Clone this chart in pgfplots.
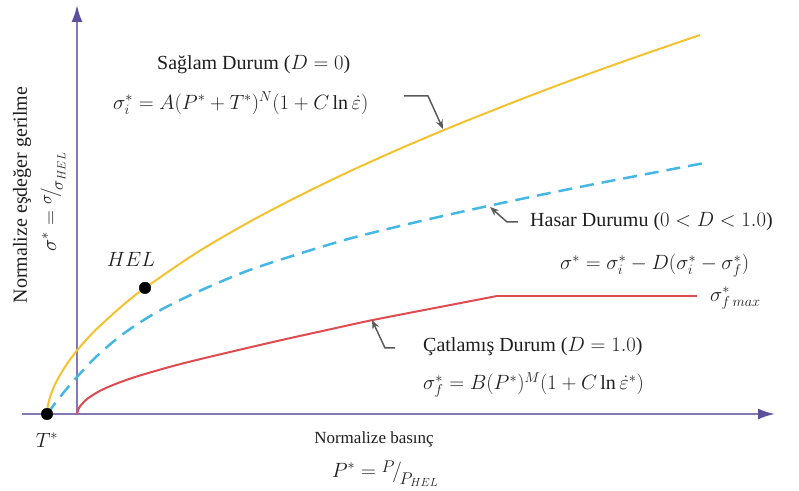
\documentclass[border=0pt]{standalone}
\usepackage{fontspec}
\setmainfont{Liberation Serif}
\usepackage{graphicx}
\usepackage{pgfplots}
\pgfplotsset{compat=1.18}
\usetikzlibrary{arrows.meta}

\definecolor{axispurple}{HTML}{8677B6}
\definecolor{tippurple}{HTML}{5E4E9C}
\definecolor{intact}{HTML}{F4C22F}
\definecolor{damaged}{HTML}{45B7E5}
\definecolor{fractured}{HTML}{DE4B50}
\definecolor{leader}{HTML}{5A5A5A}
\definecolor{ink}{HTML}{1E1E1E}

% slashed fraction with raised numerator and lowered denominator
\newcommand{\slfrac}[2]{%
  \raisebox{0.5ex}{\scalebox{0.82}{$#1$}}%
  \mkern-2mu\Big/\mkern-2mu%
  \raisebox{-0.75ex}{\scalebox{0.82}{$#2$}}}

\begin{document}
\begin{tikzpicture}[font=\fontsize{20bp}{24bp}\selectfont,
  every node/.append style={text=ink, inner sep=0pt}]
\begin{axis}[
  x=1bp, y=1bp, scale only axis,
  xmin=-77, xmax=722, ymin=-77, ymax=414,
  hide axis, clip=false]

\coordinate (bl) at (axis cs:-77,-77);
\coordinate (tr) at (axis cs:722,414);

% pressure and stress axes
\draw[axispurple, line width=2.2bp, -{Latex[length=17bp,width=11bp,color=tippurple]}]
  (axis cs:0,0) -- (axis cs:0,409);
\draw[axispurple, line width=2.2bp, -{Latex[length=17bp,width=11bp,color=tippurple]}]
  (axis cs:-55,0) -- (axis cs:698,0);

% intact strength (D = 0)
\addplot[intact, line width=2bp, smooth] coordinates {
  (-30,0) (-29.5,5.9) (-28,13.2) (-25,22.5) (-20,33.6) (-10,50.2) (0,63.5)
  (10,75.0) (20,85.4) (45,108.0) (68,126.1) (120,161.5) (170,190.8)
  (220,217.1) (270,241.4) (320,264.0) (370,285.2) (420,305.3)
  (470,324.7) (520,343.1) (570,360.8) (623,379.0)};

% damaged strength (0 < D < 1)
\addplot[damaged, line width=2.5bp, dash pattern=on 14bp off 8bp, smooth] coordinates {
  (-30,0) (-15,19.5) (-1,36) (20,58) (46,80) (80,102) (118,121) (170,143)
  (223,160.5) (273,175.5) (323,188) (368,198.5) (413,208.4) (468,220)
  (523,231) (575,241) (626,250.7)};

% fractured strength (D = 1), capped at its maximum
\addplot[fractured, line width=2bp, smooth] coordinates {
  (0,0) (2,6) (5,10) (10,15) (20,21.5) (30,26.5) (45,32.5) (63,38.5)
  (96,48) (130,56.5) (196,72) (250,84) (296,94) (363,107) (420,118)};
\addplot[fractured, line width=2bp] coordinates {(420,118) (620,118)};

% T* and HEL points
\addplot[only marks, mark=*, mark size=5.8pt, black] coordinates {(-30,0) (68,126.1)};

% leaders
\draw[leader, line width=1.5bp, -{Stealth[length=9bp,width=7bp]}]
  (axis cs:327,318) -- (axis cs:351,318) -- (axis cs:366,285);
\draw[leader, line width=1.5bp, -{Stealth[length=9bp,width=7bp]}]
  (axis cs:441,192) -- (axis cs:430,192) -- (axis cs:413,207);
\draw[leader, line width=1.5bp, -{Stealth[length=9bp,width=7bp]}]
  (axis cs:318,66) -- (axis cs:308,66) -- (axis cs:295,94);

% labels
\node[anchor=west] at (axis cs:80,349) {Sağlam Durum ($D = 0$)};
\node[anchor=west] at (axis cs:36,311) {$\sigma_i^* = A(P^* + T^*)^N(1 + C\ln\dot{\varepsilon})$};
\node[anchor=west] at (axis cs:453,192) {Hasar Durumu ($0 < D < 1.0$)};
\node[anchor=west] at (axis cs:483,148) {$\sigma^* = \sigma_i^* - D(\sigma_i^* - \sigma_f^*)$};
\node[anchor=west] at (axis cs:633,116) {$\sigma^*_{f\,max}$};
\node[anchor=west] at (axis cs:346,67) {Çatlamış Durum ($D = 1.0$)};
\node[anchor=west] at (axis cs:346,29) {$\sigma_f^* = B(P^*)^M(1 + C\ln\dot{\varepsilon}^*)$};
\node at (axis cs:54,155) {$HEL$};
\node at (axis cs:-30,-26) {$T^*$};
\node[font=\fontsize{17bp}{20bp}\selectfont] at (axis cs:297,-25) {Normalize basınç};
\node at (axis cs:308,-60) {$P^* = \slfrac{P}{P_{HEL}}$};
\node[rotate=90] at (axis cs:-55,219) {Normalize eşdeğer gerilme};
\node[rotate=90] at (axis cs:-24,212) {$\sigma^* = \slfrac{\sigma}{\sigma_{HEL}}$};
\end{axis}
\pgfresetboundingbox
\path (bl) rectangle (tr);
\end{tikzpicture}
\end{document}
